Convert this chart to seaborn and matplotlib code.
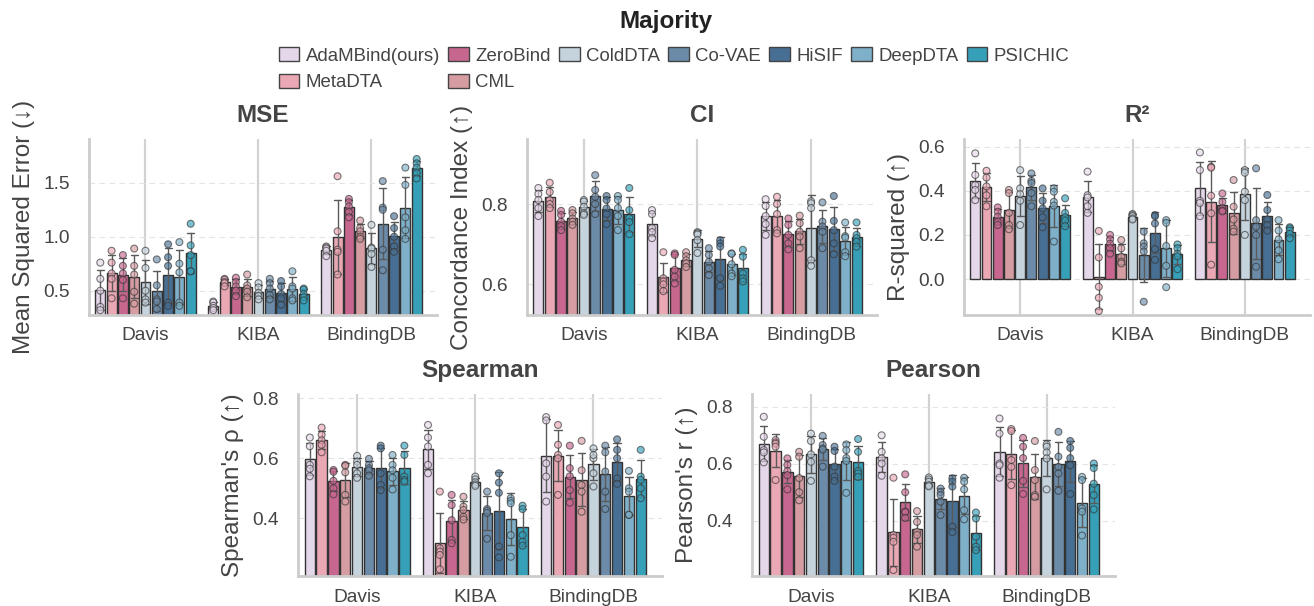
import numpy as np
import pandas as pd
import matplotlib
matplotlib.use("Agg")
import matplotlib.pyplot as plt
import seaborn as sns
from matplotlib.patches import Patch

methods = ["AdaMBind(ours)", "MetaDTA", "ZeroBind", "CML", "ColdDTA",
           "Co-VAE", "HiSIF", "DeepDTA", "PSICHIC"]
colors = ["#e5d7ea", "#eaa7b4", "#c7678f", "#d59ca2", "#c5d3dd",
          "#6b8ba8", "#476f93", "#7eb0c9", "#36a0b9"]
datasets = ["Davis", "KIBA", "BindingDB"]

# ---- MSE (5 runs per method) ----
mse_davis = [
    [0.76, 0.61, 0.50, 0.35, 0.32], [0.87, 0.76, 0.66, 0.61, 0.43],
    [0.83, 0.73, 0.66, 0.60, 0.43], [0.89, 0.73, 0.65, 0.49, 0.38],
    [0.87, 0.71, 0.50, 0.42, 0.39], [0.79, 0.55, 0.42, 0.40, 0.33],
    [0.93, 0.81, 0.73, 0.39, 0.36], [0.95, 0.75, 0.67, 0.39, 0.36],
    [1.12, 0.92, 0.83, 0.68, 0.68]]
mse_kiba = [
    [0.40, 0.39, 0.36, 0.34, 0.32], [0.61, 0.60, 0.58, 0.57, 0.54],
    [0.62, 0.58, 0.54, 0.50, 0.45], [0.65, 0.55, 0.52, 0.49, 0.44],
    [0.57, 0.53, 0.48, 0.45, 0.42], [0.61, 0.57, 0.52, 0.46, 0.42],
    [0.59, 0.54, 0.47, 0.43, 0.37], [0.68, 0.54, 0.52, 0.43, 0.41],
    [0.52, 0.51, 0.47, 0.44, 0.41]]
mse_bdb = [
    [0.91, 0.90, 0.89, 0.87, 0.82], [1.56, 1.05, 0.88, 0.86, 0.65],
    [1.35, 1.32, 1.28, 1.23, 1.18], [1.15, 1.08, 1.05, 1.00, 0.98],
    [1.11, 0.90, 0.89, 0.84, 0.72], [1.515, 1.27, 1.25, 0.88, 0.69],
    [1.19, 1.08, 1.00, 0.91, 0.86], [1.64, 1.48, 1.18, 1.06, 0.98],
    [1.72, 1.68, 1.64, 1.59, 1.54]]

# ---- CI ----
ci_davis = [
    [0.84, 0.825, 0.81, 0.79, 0.77], [0.853, 0.83, 0.81, 0.80, 0.79],
    [0.783, 0.773, 0.756, 0.745, 0.735], [0.785, 0.777, 0.764, 0.756, 0.748],
    [0.81, 0.806, 0.793, 0.777, 0.773], [0.872, 0.835, 0.818, 0.80, 0.775],
    [0.82, 0.81, 0.789, 0.775, 0.75], [0.82, 0.81, 0.79, 0.77, 0.735],
    [0.84, 0.785, 0.765, 0.755, 0.725]]
ci_kiba = [
    [0.785, 0.775, 0.74, 0.73, 0.715], [0.68, 0.615, 0.607, 0.60, 0.583],
    [0.677, 0.673, 0.636, 0.619, 0.602], [0.68, 0.67, 0.66, 0.652, 0.643],
    [0.73, 0.727, 0.724, 0.71, 0.678], [0.69, 0.673, 0.656, 0.64, 0.623],
    [0.71, 0.702, 0.694, 0.615, 0.596], [0.677, 0.676, 0.65, 0.627, 0.62],
    [0.686, 0.669, 0.627, 0.615, 0.607]]
ci_bdb = [
    [0.812, 0.795, 0.77, 0.75, 0.723], [0.818, 0.80, 0.775, 0.735, 0.727],
    [0.764, 0.748, 0.723, 0.702, 0.687], [0.771, 0.752, 0.731, 0.719, 0.69],
    [0.807, 0.802, 0.79, 0.66, 0.646], [0.804, 0.756, 0.744, 0.731, 0.69],
    [0.82, 0.758, 0.735, 0.702, 0.675], [0.754, 0.72, 0.716, 0.68, 0.67],
    [0.754, 0.723, 0.715, 0.706, 0.694]]

# ---- R² ----
r2_davis = [
    [0.57, 0.472, 0.426, 0.404, 0.358], [0.491, 0.46, 0.42, 0.38, 0.33],
    [0.325, 0.305, 0.283, 0.26, 0.245], [0.404, 0.39, 0.30, 0.245, 0.226],
    [0.494, 0.411, 0.385, 0.355, 0.245], [0.479, 0.445, 0.435, 0.39, 0.33],
    [0.411, 0.355, 0.32, 0.28, 0.235], [0.411, 0.396, 0.35, 0.333, 0.17],
    [0.366, 0.30, 0.28, 0.265, 0.24]]
r2_kiba = [
    [0.487, 0.38, 0.37, 0.33, 0.30], [0.218, 0.098, -0.035, -0.085, -0.145],
    [0.20, 0.18, 0.16, 0.14, 0.115], [0.177, 0.139, 0.101, 0.079, 0.071],
    [0.295, 0.29, 0.285, 0.275, 0.27], [0.215, 0.162, 0.147, 0.125, -0.103],
    [0.29, 0.285, 0.252, 0.136, 0.087], [0.267, 0.255, 0.15, 0.06, -0.037],
    [0.157, 0.14, 0.115, 0.103, 0.045]]
r2_bdb = [
    [0.574, 0.494, 0.355, 0.345, 0.285], [0.509, 0.505, 0.378, 0.298, 0.065],
    [0.388, 0.35, 0.32, 0.31, 0.307], [0.449, 0.328, 0.27, 0.228, 0.215],
    [0.494, 0.482, 0.396, 0.358, 0.20], [0.502, 0.267, 0.237, 0.20, 0.056],
    [0.381, 0.313, 0.27, 0.245, 0.22], [0.267, 0.22, 0.18, 0.13, 0.09],
    [0.235, 0.23, 0.22, 0.205, 0.185]]

# ---- Spearman ----
sp_davis = [
    [0.669, 0.64, 0.578, 0.565, 0.54], [0.702, 0.678, 0.66, 0.645, 0.62],
    [0.561, 0.555, 0.525, 0.50, 0.48], [0.578, 0.575, 0.553, 0.478, 0.456],
    [0.608, 0.589, 0.578, 0.55, 0.535], [0.598, 0.578, 0.567, 0.56, 0.542],
    [0.642, 0.633, 0.55, 0.511, 0.494], [0.611, 0.578, 0.56, 0.535, 0.496],
    [0.642, 0.611, 0.539, 0.528, 0.522]]
sp_kiba = [
    [0.711, 0.669, 0.639, 0.578, 0.55], [0.489, 0.30, 0.289, 0.278, 0.23],
    [0.478, 0.444, 0.394, 0.328, 0.317], [0.472, 0.439, 0.428, 0.405, 0.396],
    [0.539, 0.53, 0.52, 0.513, 0.508], [0.489, 0.431, 0.425, 0.418, 0.332],
    [0.55, 0.519, 0.485, 0.306, 0.27], [0.467, 0.458, 0.45, 0.344, 0.272],
    [0.442, 0.431, 0.344, 0.322, 0.309]]
sp_bdb = [
    [0.737, 0.726, 0.583, 0.539, 0.456], [0.711, 0.645, 0.611, 0.60, 0.478],
    [0.642, 0.567, 0.54, 0.494, 0.452], [0.658, 0.56, 0.511, 0.489, 0.422],
    [0.633, 0.60, 0.611, 0.55, 0.506], [0.642, 0.62, 0.556, 0.489, 0.431],
    [0.663, 0.628, 0.60, 0.533, 0.515], [0.558, 0.50, 0.489, 0.411, 0.412],
    [0.628, 0.539, 0.528, 0.50, 0.467]]

# ---- Pearson ----
pe_davis = [
    [0.765, 0.695, 0.648, 0.64, 0.605], [0.683, 0.675, 0.67, 0.66, 0.543],
    [0.619, 0.596, 0.575, 0.56, 0.51], [0.642, 0.625, 0.55, 0.50, 0.472],
    [0.706, 0.68, 0.633, 0.607, 0.54], [0.698, 0.666, 0.654, 0.65, 0.59],
    [0.66, 0.645, 0.59, 0.555, 0.54], [0.668, 0.648, 0.62, 0.61, 0.498],
    [0.687, 0.642, 0.575, 0.566, 0.554]]
pe_kiba = [
    [0.70, 0.642, 0.619, 0.601, 0.558], [0.551, 0.35, 0.34, 0.326, 0.227],
    [0.563, 0.50, 0.432, 0.43, 0.41], [0.434, 0.396, 0.361, 0.35, 0.309],
    [0.552, 0.545, 0.537, 0.525, 0.521], [0.513, 0.50, 0.49, 0.467, 0.42],
    [0.549, 0.537, 0.52, 0.379, 0.36], [0.551, 0.537, 0.51, 0.437, 0.405],
    [0.429, 0.408, 0.344, 0.309, 0.297]]
pe_bdb = [
    [0.759, 0.706, 0.601, 0.595, 0.551], [0.722, 0.715, 0.613, 0.589, 0.525],
    [0.691, 0.66, 0.62, 0.54, 0.494], [0.68, 0.578, 0.543, 0.49, 0.484],
    [0.668, 0.66, 0.64, 0.619, 0.51], [0.712, 0.625, 0.589, 0.566, 0.505],
    [0.68, 0.656, 0.62, 0.595, 0.494], [0.554, 0.543, 0.443, 0.432, 0.348],
    [0.601, 0.585, 0.53, 0.49, 0.44]]

titles = ["MSE", "CI", "R²", "Spearman", "Pearson"]
ylabels = ["Mean Squared Error (↓)", "Concordance Index (↑)", "R-squared (↑)",
           "Spearman's ρ (↑)", "Pearson's r (↑)"]
yticks_list = [[0.5, 1.0, 1.5], [0.6, 0.8], [0.0, 0.2, 0.4, 0.6],
               [0.4, 0.6, 0.8], [0.4, 0.6, 0.8]]


def long_df(davis, kiba, bdb):
    rows = []
    for ds, block in zip(datasets, [davis, kiba, bdb]):
        for m, vals in zip(methods, block):
            for v in vals:
                rows.append((ds, m, v))
    return pd.DataFrame(rows, columns=["dataset", "method", "value"])


panel_data = [
    long_df(mse_davis, mse_kiba, mse_bdb),
    long_df(ci_davis, ci_kiba, ci_bdb),
    long_df(r2_davis, r2_kiba, r2_bdb),
    long_df(sp_davis, sp_kiba, sp_bdb),
    long_df(pe_davis, pe_kiba, pe_bdb),
]

ylims = [(0.275, 1.905), (0.5235, 0.962), (-0.163, 0.635),
         (0.208, 0.814), (0.206, 0.845)]

W, H = 1314, 606
def rect(l, t, r, b):
    return [l / W, 1 - b / H, (r - l) / W, (b - t) / H]

rects = [rect(89, 139, 437, 315), rect(527, 139, 877, 315),
         rect(964, 139, 1310, 315), rect(298, 394, 662, 576),
         rect(752, 394, 1115, 576)]

sns.set_theme(style="whitegrid")
plt.rcParams["font.family"] = ["Liberation Sans", "DejaVu Sans"]
plt.rcParams["axes.axisbelow"] = True

fig = plt.figure(figsize=(W / 100, H / 100), dpi=100)
text_col = "#444444"
BW = 0.9

for i in range(5):
    ax = fig.add_axes(rects[i])
    df = panel_data[i]
    sns.barplot(data=df, x="dataset", y="value", hue="method",
                order=datasets, hue_order=methods, palette=colors,
                errorbar="sd", capsize=0.55, width=BW, gap=0.12,
                edgecolor="#333333", linewidth=1.0,
                err_kws={"color": "#5a5a5a", "linewidth": 1.0},
                saturation=1, legend=False, ax=ax)
    n0 = len(ax.collections)
    sns.stripplot(data=df, x="dataset", y="value", hue="method",
                  order=datasets, hue_order=methods, palette=colors,
                  dodge=True, jitter=False, size=5, edgecolor="#333333",
                  linewidth=0.8, alpha=0.65, legend=False, zorder=4, ax=ax)
    # stretch strip dodge (0.8) to match bar group width
    for coll in ax.collections[n0:]:
        off = np.asarray(coll.get_offsets()).copy()
        if len(off):
            c = np.round(off[:, 0])
            off[:, 0] = c + (off[:, 0] - c) * BW / 0.8
            coll.set_offsets(off)

    ax.set_ylim(*ylims[i])
    ax.set_yticks(yticks_list[i])
    ax.set_xlim(-0.5, 2.58)
    ax.set_xlabel("")
    ax.set_ylabel(ylabels[i], fontsize=17.5, color=text_col, labelpad=6)
    ax.set_title(titles[i], fontsize=17.5, fontweight="bold", color=text_col, pad=12)
    ax.tick_params(axis="both", labelsize=13.8, labelcolor=text_col, length=0)
    ax.tick_params(axis="y", pad=14)
    ax.tick_params(axis="x", pad=9)
    ax.xaxis.grid(True, color="#d2d2d2", linewidth=1.6, linestyle="-")
    ax.yaxis.grid(True, color="#e4e4e4", linewidth=0.8, linestyle=(0, (5, 4)))
    sns.despine(ax=ax)
    for s in ["left", "bottom"]:
        ax.spines[s].set_color("#cccccc")
        ax.spines[s].set_linewidth(2)

fig.text(0.507, 0.965, "Majority", ha="center", va="center",
         fontsize=17.5, fontweight="bold", color="#222222")

handles = [Patch(facecolor=c, edgecolor="#444444", linewidth=1.0) for c in colors]
leg = fig.legend(handles, methods, loc="upper center", bbox_to_anchor=(0.513, 0.922),
                 ncol=7, frameon=False, fontsize=13.4, handlelength=1.1,
                 handleheight=0.75, handletextpad=0.35, columnspacing=0.45,
                 labelspacing=0.5, borderaxespad=0, borderpad=0)
for t in leg.get_texts():
    t.set_color(text_col)

fig.savefig("out.png", dpi=100)
